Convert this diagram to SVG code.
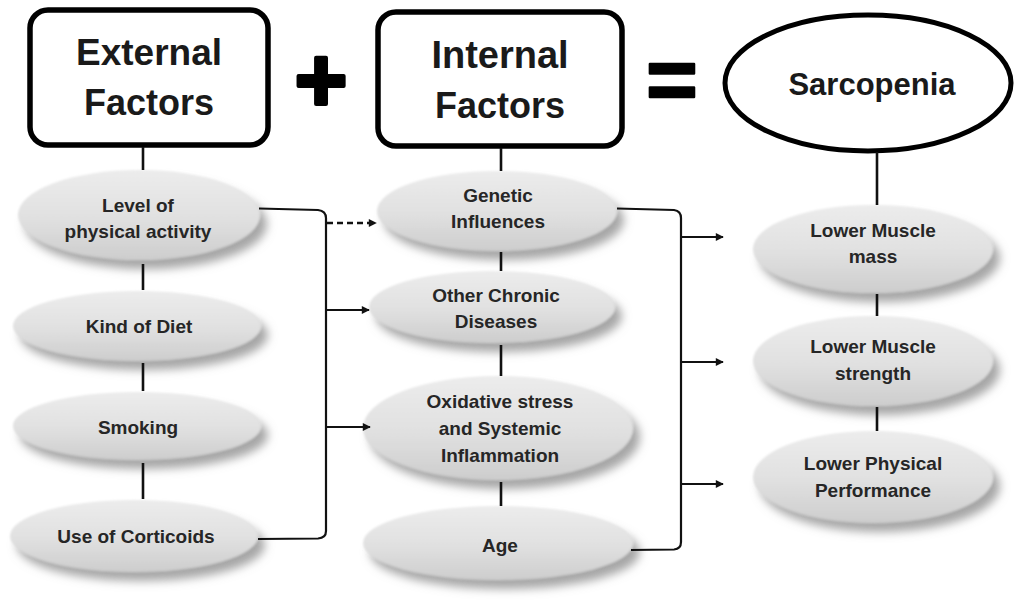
<svg xmlns="http://www.w3.org/2000/svg" width="1014" height="603" viewBox="0 0 1014 603">
  <style>
    .hdr { fill: #fff; stroke: #000; stroke-width: 5.5; }
    .htxt { font-family: "Liberation Sans", Arial, sans-serif; font-weight: bold; fill: #1a1a1a; text-anchor: middle; }
    .sym { font-family: "Liberation Sans", Arial, sans-serif; font-weight: bold; fill: #000; stroke: #000; stroke-linejoin: round; text-anchor: middle; }
    .ov { fill: url(#gfill); filter: url(#sh); }
    .otxt { font-family: "Liberation Sans", Arial, sans-serif; font-weight: bold; font-size: 19px; fill: #262626; text-anchor: middle; }
    .ln { fill: none; stroke: #111; stroke-width: 2.2; }
    .vl { stroke: #111; stroke-width: 2.6; }
    .dash { fill: none; stroke: #111; stroke-width: 2.4; stroke-dasharray: 6 4; }
  </style>
  <defs>
    <linearGradient id="gfill" x1="0" y1="0" x2="0" y2="1">
      <stop offset="0" stop-color="#ececec"/>
      <stop offset="0.55" stop-color="#e0e0e0"/>
      <stop offset="1" stop-color="#cdcdcd"/>
    </linearGradient>
    <filter id="sh" x="-20%" y="-40%" width="150%" height="200%">
      <feGaussianBlur in="SourceAlpha" stdDeviation="5"/>
      <feOffset dx="7" dy="9" result="b"/>
      <feFlood flood-color="#808080" flood-opacity="0.7"/>
      <feComposite in2="b" operator="in" result="s"/>
      <feGaussianBlur in="SourceGraphic" stdDeviation="1.2" result="soft"/>
      <feMerge><feMergeNode in="s"/><feMergeNode in="soft"/></feMerge>
    </filter>
    <marker id="ah" viewBox="0 0 10 10" refX="9" refY="5" markerWidth="9" markerHeight="8" markerUnits="userSpaceOnUse" orient="auto">
      <path d="M0,0 L10,5 L0,10 z" fill="#111"/>
    </marker>
  </defs>
  <rect width="1014" height="603" fill="#fff"/>

  <g id="external">
    <rect class="hdr" x="30" y="10" width="238" height="135" rx="18"/>
    <text class="htxt" x="149" y="65" font-size="37">External</text>
    <text class="htxt" x="149" y="115" font-size="36">Factors</text>
  </g>
  <g id="plus"><text class="sym" x="321" y="111" font-size="90" stroke-width="4">+</text></g>
  <g id="internal">
    <rect class="hdr" x="378" y="12" width="244" height="134" rx="18"/>
    <text class="htxt" x="500" y="68" font-size="38">Internal</text>
    <text class="htxt" x="500" y="118" font-size="36">Factors</text>
  </g>
  <g id="equals"><text class="sym" x="672" y="109" font-size="88" stroke-width="2.5">=</text></g>
  <g id="sarcopenia">
    <ellipse cx="868" cy="83" rx="143" ry="68" fill="#fff" stroke="#000" stroke-width="5"/>
    <text class="htxt" x="872" y="95" font-size="31">Sarcopenia</text>
  </g>

  <g id="n-activity">
    <ellipse class="ov" cx="139" cy="215" rx="121" ry="45"/>
    <text class="otxt" x="138" y="212">Level of</text>
    <text class="otxt" x="138" y="238">physical activity</text>
  </g>
  <g id="n-diet">
    <ellipse class="ov" cx="137" cy="326" rx="124" ry="35"/>
    <text class="otxt" x="139" y="333">Kind of Diet</text>
  </g>
  <g id="n-smoking">
    <ellipse class="ov" cx="137" cy="426" rx="124" ry="34"/>
    <text class="otxt" x="138" y="434">Smoking</text>
  </g>
  <g id="n-corticoids">
    <ellipse class="ov" cx="134" cy="536" rx="124" ry="36"/>
    <text class="otxt" x="136" y="543">Use of Corticoids</text>
  </g>

  <g id="n-genetic">
    <ellipse class="ov" cx="497" cy="211" rx="120" ry="40"/>
    <text class="otxt" x="498" y="202">Genetic</text>
    <text class="otxt" x="498" y="228">Influences</text>
  </g>
  <g id="n-chronic">
    <ellipse class="ov" cx="492" cy="307" rx="123" ry="36"/>
    <text class="otxt" x="496" y="302">Other Chronic</text>
    <text class="otxt" x="496" y="328">Diseases</text>
  </g>
  <g id="n-oxidative">
    <ellipse class="ov" cx="498" cy="428" rx="135" ry="52"/>
    <text class="otxt" x="500" y="408">Oxidative stress</text>
    <text class="otxt" x="500" y="435">and Systemic</text>
    <text class="otxt" x="500" y="462">Inflammation</text>
  </g>
  <g id="n-age">
    <ellipse class="ov" cx="498" cy="543" rx="135" ry="37"/>
    <text class="otxt" x="500" y="552">Age</text>
  </g>

  <g id="n-mass">
    <ellipse class="ov" cx="873" cy="249" rx="120" ry="44"/>
    <text class="otxt" x="873" y="237">Lower Muscle</text>
    <text class="otxt" x="873" y="263">mass</text>
  </g>
  <g id="n-strength">
    <ellipse class="ov" cx="873" cy="361" rx="120" ry="45"/>
    <text class="otxt" x="873" y="353">Lower Muscle</text>
    <text class="otxt" x="873" y="380">strength</text>
  </g>
  <g id="n-performance">
    <ellipse class="ov" cx="873" cy="477" rx="120" ry="46"/>
    <text class="otxt" x="873" y="470">Lower Physical</text>
    <text class="otxt" x="873" y="497">Performance</text>
  </g>

  <g id="connectors">
    <line class="vl" x1="143" y1="147" x2="143" y2="170"/>
    <line class="vl" x1="143" y1="264" x2="143" y2="290"/>
    <line class="vl" x1="143" y1="363" x2="143" y2="391"/>
    <line class="vl" x1="143" y1="463" x2="143" y2="499"/>
    <line class="vl" x1="501" y1="148" x2="501" y2="171"/>
    <line class="vl" x1="501" y1="252" x2="501" y2="271"/>
    <line class="vl" x1="501" y1="345" x2="501" y2="376"/>
    <line class="vl" x1="501" y1="482" x2="501" y2="506"/>
    <line class="vl" x1="877" y1="152" x2="877" y2="205"/>
    <line class="vl" x1="877" y1="294" x2="877" y2="316"/>
    <line class="vl" x1="877" y1="407" x2="877" y2="431"/>
    <path class="ln" d="M259,208.5 L318,210 Q326,211 326,218 L326,531 Q326,538 318,538.5 L258,539"/>
    <path class="dash" d="M327,223 L376,223" marker-end="url(#ah)"/>
    <path class="ln" d="M326,310 L369,310" marker-end="url(#ah)"/>
    <path class="ln" d="M326,427 L370,427" marker-end="url(#ah)"/>
    <path class="ln" d="M617,208.5 L674,210 Q681,211 681,218 L681,542 Q681,549 674,549.5 L631,550"/>
    <path class="ln" d="M681,237 L723,237" marker-end="url(#ah)"/>
    <path class="ln" d="M681,362 L723,362" marker-end="url(#ah)"/>
    <path class="ln" d="M681,484 L723,484" marker-end="url(#ah)"/>
  </g>
</svg>
